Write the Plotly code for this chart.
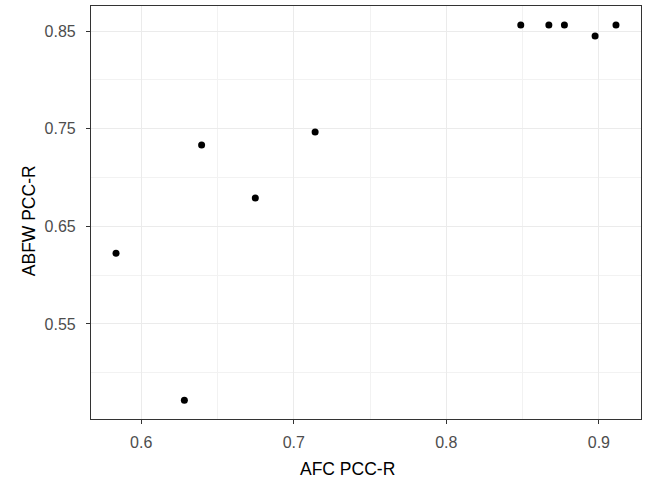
import plotly.graph_objects as go

afc = [0.5835, 0.6283, 0.6396, 0.6748, 0.7140, 0.8488, 0.8672, 0.8774, 0.8975, 0.9112]
abfw = [0.6225, 0.4720, 0.7332, 0.6789, 0.7465, 0.8561, 0.8561, 0.8561, 0.8449, 0.8561]

x_major = [0.6, 0.7, 0.8, 0.9]
x_minor = [0.65, 0.75, 0.85]
y_major = [0.55, 0.65, 0.75, 0.85]
y_minor = [0.50, 0.60, 0.70, 0.80]

FONT = "Liberation Sans, Arial, sans-serif"

fig = go.Figure(go.Scatter(
    x=afc, y=abfw, mode="markers",
    marker=dict(color="black", size=7, line=dict(width=0)),
    hoverinfo="skip",
))

axis_common = dict(
    showline=True, mirror=True, linecolor="#333333", linewidth=1.2,
    ticks="outside", ticklen=4, tickcolor="#333333", tickwidth=1.1,
    showgrid=True, gridcolor="#EBEBEB", gridwidth=1.1,
    zeroline=False,
    tickfont=dict(family=FONT, size=16, color="#4D4D4D"),
)

fig.update_layout(
    width=648, height=484,
    margin=dict(l=91, r=6.5, t=6, b=65.3),
    paper_bgcolor="white", plot_bgcolor="white",
    showlegend=False,
    xaxis=dict(range=[0.5671, 0.9276], tickvals=x_major,
               ticktext=[f"{v:g}" for v in x_major],
               ticklabelstandoff=5,
               minor=dict(tickvals=x_minor, showgrid=True, gridcolor="#F2F2F2",
                          gridwidth=0.6, ticks=""),
               **axis_common),
    yaxis=dict(range=[0.4527, 0.8756], tickvals=y_major,
               ticktext=[f"{v:.2f}" for v in y_major],
               ticklabelstandoff=7,
               minor=dict(tickvals=y_minor, showgrid=True, gridcolor="#F2F2F2",
                          gridwidth=0.6, ticks=""),
               **axis_common),
    annotations=[
        dict(text="AFC PCC-R", xref="paper", yref="paper", x=(348 - 91) / 550.5,
             y=-(469 - 418.7) / 412.7, xanchor="center", yanchor="middle",
             showarrow=False, font=dict(family=FONT, size=17.5, color="black")),
        dict(text="ABFW PCC-R", xref="paper", yref="paper", x=-(91 - 29) / 550.5,
             y=(418.7 - 221) / 412.7, xanchor="center", yanchor="middle",
             textangle=-90, showarrow=False,
             font=dict(family=FONT, size=17.5, color="black")),
    ],
)

fig.write_html("out.html",
               config={"displayModeBar": False},
               post_script="document.body.style.margin='0';document.body.style.overflow='hidden';")
